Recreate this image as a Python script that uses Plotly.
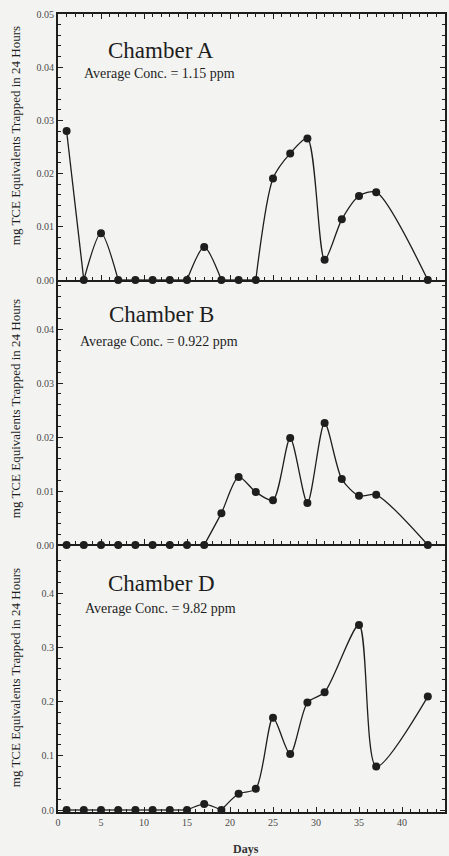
import plotly.graph_objects as go

# ---------------- data ----------------
days = [1, 3, 5, 7, 9, 11, 13, 15, 17, 19, 21, 23, 25, 27, 29, 31, 33, 35, 37, 43]
chamber_a = [0.028, 0, 0.0088, 0, 0, 0, 0, 0, 0.0062, 0, 0, 0, 0.0191, 0.0238,
             0.0266, 0.0038, 0.0114, 0.0158, 0.0165, 0]
chamber_b = [0, 0, 0, 0, 0, 0, 0, 0, 0, 0.0059, 0.0126, 0.0098, 0.0083, 0.0198,
             0.0078, 0.0226, 0.0122, 0.0091, 0.0093, 0]
days_d = [1, 3, 5, 7, 9, 11, 13, 15, 17, 19, 21, 23, 25, 27, 29, 31, 35, 37, 43]
chamber_d = [0, 0, 0, 0, 0, 0, 0, 0, 0.011, 0, 0.030, 0.039, 0.170, 0.103,
             0.198, 0.217, 0.341, 0.080, 0.209]

titles = ["Chamber A", "Chamber B", "Chamber D"]
averages = ["Average Conc. = 1.15 ppm", "Average Conc. = 0.922 ppm", "Average Conc. = 9.82 ppm"]
y_title = "mg TCE Equivalents Trapped in 24 Hours"
x_title = "Days"

# ---------------- layout geometry (pixels) ----------------
W, H = 449, 856
L, R, T, B = 58, 2, 14, 44
PW, PH = W - L - R, H - T - B
BOTTOM = H - B


def fx(px):
    return (px - L) / PW


def fy(py):
    return (BOTTOM - py) / PH


SERIF = "Liberation Serif, Times New Roman, serif"
INK = "#1e1e1e"
BG = "#f3f3f1"


def segments(x, y):
    """Split the series at zero values so each piece is smoothed separately."""
    xs, ys = [], []
    start = 0
    for i in range(1, len(y)):
        if y[i] == 0 or i == len(y) - 1:
            xs += list(x[start:i + 1]) + [None]
            ys += list(y[start:i + 1]) + [None]
            start = i
    return xs, ys


fig = go.Figure()
series = [(days, chamber_a, "x", "y"), (days, chamber_b, "x2", "y2"), (days_d, chamber_d, "x3", "y3")]
for xv, yv, xa, ya in series:
    sx, sy = segments(xv, yv)
    fig.add_trace(go.Scatter(x=sx, y=sy, mode="lines", xaxis=xa, yaxis=ya,
                             line=dict(color=INK, width=1.3, shape="spline", smoothing=0.75),
                             connectgaps=False, showlegend=False, hoverinfo="skip"))
    fig.add_trace(go.Scatter(x=xv, y=yv, mode="markers", xaxis=xa, yaxis=ya,
                             marker=dict(color=INK, size=8), cliponaxis=False,
                             showlegend=False))

tickfont = dict(family=SERIF, size=10, color="#4a4a4a")
common_x = dict(range=[0, 45], showgrid=False, zeroline=False, showline=True, linewidth=2,
                linecolor=INK, ticks="inside", ticklen=5, tickwidth=1, tickcolor=INK, dtick=5,
                tick0=0, minor=dict(dtick=1, ticks="inside", ticklen=3, tickcolor=INK),
                layer="below traces", tickfont=tickfont)
common_y = dict(showgrid=False, zeroline=False, showline=True, linewidth=2, linecolor=INK,
                ticks="inside", ticklen=5, tickwidth=1, tickcolor=INK, mirror="ticks",
                layer="below traces", tickfont=tickfont)

# panel pixel boundaries
A_top, A_bot = 14, 280
B_top, B_bot = 280, 556
D_top, D_bot = 556, 812

fig.update_layout(
    width=W, height=H,
    margin=dict(l=L, r=R, t=T, b=B),
    paper_bgcolor=BG, plot_bgcolor=BG,
    font=dict(family=SERIF, color=INK),
    xaxis=dict(common_x, domain=[0, 1], anchor="y", showticklabels=False, mirror="ticks"),
    yaxis=dict(common_y, domain=[fy(A_bot), fy(A_top)], anchor="x", range=[0, 0.05],
               dtick=0.01, tickformat=".2f", minor=dict(dtick=0.002, ticks="inside", ticklen=3, tickcolor=INK)),
    xaxis2=dict(common_x, domain=[0, 1], anchor="free", position=fy(545), showticklabels=False),
    yaxis2=dict(common_y, domain=[fy(B_bot), fy(B_top)], anchor="x2",
                range=[-(556 - 545) / 5400, (545 - 280) / 5400],
                dtick=0.01, tickformat=".2f", minor=dict(dtick=0.002, ticks="inside", ticklen=3, tickcolor=INK)),
    xaxis3=dict(common_x, domain=[0, 1], anchor="y3", showticklabels=True),
    yaxis3=dict(common_y, domain=[fy(D_bot), fy(D_top)], anchor="x3",
                range=[-(812 - 810) / 542.5, (810 - 556) / 542.5],
                dtick=0.1, tickformat=".1f", minor=dict(dtick=0.02, ticks="inside", ticklen=3, tickcolor=INK)),
)

ann = []
title_pos = [(162, 50), (162, 314), (162, 583)]
avg_pos = [(82, 73), (78, 341), (83, 608)]
ytitle_centers = [136, 409, 678]
for t, (tx, ty) in zip(titles, title_pos):
    ann.append(dict(text=t, x=fx(tx), y=fy(ty), xref="paper", yref="paper", xanchor="center",
                    yanchor="middle", showarrow=False, font=dict(family=SERIF, size=23, color=INK)))
for a, (ax_, ay_) in zip(averages, avg_pos):
    ann.append(dict(text=a, x=fx(ax_), y=fy(ay_), xref="paper", yref="paper", xanchor="left",
                    yanchor="middle", showarrow=False, font=dict(family=SERIF, size=14, color=INK)))
for cy in ytitle_centers:
    ann.append(dict(text=y_title, x=fx(15), y=fy(cy), xref="paper", yref="paper", xanchor="center",
                    yanchor="middle", textangle=-90, showarrow=False,
                    font=dict(family=SERIF, size=13, color=INK)))
ann.append(dict(text="<b>" + x_title + "</b>", x=fx(247), y=fy(849), xref="paper", yref="paper",
                xanchor="center", yanchor="middle", showarrow=False,
                font=dict(family=SERIF, size=12, color="#333333")))
fig.update_layout(annotations=ann)

fig.write_html("out.html")
